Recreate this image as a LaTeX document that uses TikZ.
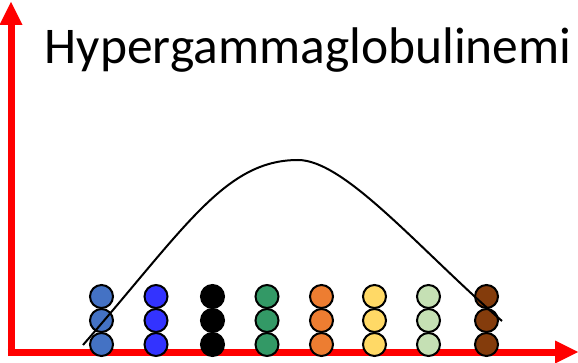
\documentclass[tikz,border=0pt]{standalone}
\usepackage{fontspec}
\setmainfont{Carlito}
\definecolor{cA}{HTML}{4472C4}
\definecolor{cB}{HTML}{3333FF}
\definecolor{cC}{HTML}{000000}
\definecolor{cD}{HTML}{339966}
\definecolor{cE}{HTML}{ED7D31}
\definecolor{cF}{HTML}{FFD966}
\definecolor{cG}{HTML}{C5E0B4}
\definecolor{cH}{HTML}{843C0C}
\begin{document}
\begin{tikzpicture}[x=1pt,y=-1pt,
  dot/.style={circle,draw=black,line width=2pt,minimum size=23pt,inner sep=0pt},
  axis/.style={draw=red,line width=7pt},
  head/.style={fill=red}]
\useasboundingbox (0,0) rectangle (578,363);
% axes
\draw[axis] (11,356) -- (11,20);
\fill[head] (11,2) -- (22.5,25) -- (-0.5,25) -- cycle;
\draw[axis] (7.5,352) -- (560,352);
\fill[head] (578,352) -- (555,340.5) -- (555,363.5) -- cycle;
% dots
\foreach \x/\c [count=\i] in {101.5/cA,156/cB,212.5/cC,267/cD,321.5/cE,374.5/cF,428.5/cG,486.5/cH}{
  \node[dot,fill=\c] (t\i) at (\x,296.5) {};
  \node[dot,fill=\c] (m\i) at (\x,320.5) {};
  \node[dot,fill=\c] (b\i) at (\x,344.5) {};
}
% curve
\coordinate (cs) at (83,345);
\coordinate (cp) at (298,160);
\coordinate (ce) at (502,321);
\draw[line width=2pt] (cs) .. controls (185,228) and (225,160) .. (cp)
  .. controls (345,160) and (420,250) .. (ce);
% title
\node[anchor=base west,inner sep=0pt,font=\fontsize{51.5}{60}\selectfont] (title) at (44.5,63.5) {Hypergammaglobulinemi};
\end{tikzpicture}
\end{document}
